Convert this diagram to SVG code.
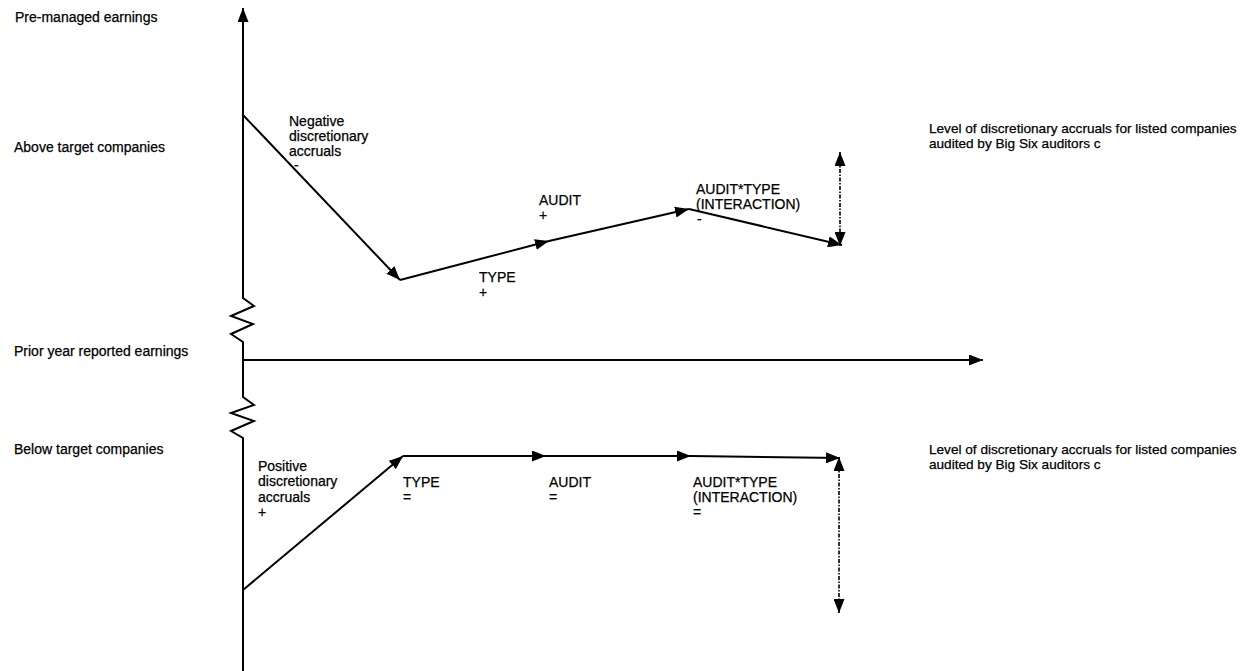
<svg xmlns="http://www.w3.org/2000/svg" width="1246" height="671" viewBox="0 0 1246 671">
<style>
text{font-family:"Liberation Sans",Arial,sans-serif;font-size:14px;fill:#000;stroke:#000;stroke-width:0.25}
text.r{font-size:13.6px}
.ln{stroke:#000;stroke-width:2;fill:none}
.dt{stroke:#000;stroke-width:1.6;fill:none;stroke-dasharray:4 1.5 1.5 1.5}
</style>
<defs>
<marker id="ah" viewBox="0 0 14 11" refX="14" refY="5.5" markerWidth="14" markerHeight="11" markerUnits="userSpaceOnUse" orient="auto-start-reverse">
<path d="M0,0 L14,5.5 L0,11 Z" fill="#000"/>
</marker>
</defs>
<rect width="1246" height="671" fill="#fff"/>
<g id="axes">
<path class="ln" d="M243,671 L243,438 L231,431 L254,421 L231,413 L254,405 L243,397 L243,342 L231,334 L253,324 L231,316 L254,306 L243,298 L243,8" marker-end="url(#ah)"/>
<line class="ln" x1="243" y1="360" x2="983" y2="360" marker-end="url(#ah)"/>
</g>
<g id="connectors">
<line class="ln" x1="243" y1="115" x2="400" y2="280" marker-end="url(#ah)"/>
<line class="ln" x1="400" y1="280" x2="549" y2="241" marker-end="url(#ah)"/>
<line class="ln" x1="549" y1="241" x2="689" y2="209" marker-end="url(#ah)"/>
<line class="ln" x1="689" y1="209" x2="842" y2="245" marker-end="url(#ah)"/>
<line class="dt" x1="840" y1="152" x2="840" y2="246" marker-start="url(#ah)" marker-end="url(#ah)"/>
<line class="ln" x1="243" y1="590" x2="403" y2="456" marker-end="url(#ah)"/>
<line class="ln" x1="403" y1="456" x2="546" y2="456" marker-end="url(#ah)"/>
<line class="ln" x1="546" y1="456" x2="691" y2="456" marker-end="url(#ah)"/>
<line class="ln" x1="691" y1="456" x2="840" y2="458" marker-end="url(#ah)"/>
<line class="dt" x1="839" y1="457" x2="839" y2="613" marker-start="url(#ah)" marker-end="url(#ah)"/>
</g>
<g id="axis-labels">
<text x="15" y="22">Pre-managed earnings</text>
<text x="14" y="152">Above target companies</text>
<text x="14" y="356">Prior year reported earnings</text>
<text x="14" y="454">Below target companies</text>
</g>
<g id="upper-labels">
<text x="289" y="126">Negative</text>
<text x="289" y="141">discretionary</text>
<text x="289" y="156">accruals</text>
<text x="294" y="170">-</text>
<text x="479" y="282">TYPE</text>
<text x="479" y="297">+</text>
<text x="539" y="205">AUDIT</text>
<text x="539" y="220">+</text>
<text x="696" y="194">AUDIT*TYPE</text>
<text x="696" y="209">(INTERACTION)</text>
<text x="697" y="224">-</text>
<text class="r" x="929" y="133">Level of discretionary accruals for listed companies</text>
<text class="r" x="929" y="148">audited by Big Six auditors c</text>
</g>
<g id="lower-labels">
<text x="258" y="471">Positive</text>
<text x="258" y="486">discretionary</text>
<text x="258" y="502">accruals</text>
<text x="258" y="517">+</text>
<text x="403" y="487">TYPE</text>
<text x="403" y="502">=</text>
<text x="549" y="487">AUDIT</text>
<text x="549" y="502">=</text>
<text x="693" y="487">AUDIT*TYPE</text>
<text x="693" y="502">(INTERACTION)</text>
<text x="693" y="517">=</text>
<text class="r" x="929" y="454">Level of discretionary accruals for listed companies</text>
<text class="r" x="929" y="469">audited by Big Six auditors c</text>
</g>
</svg>
